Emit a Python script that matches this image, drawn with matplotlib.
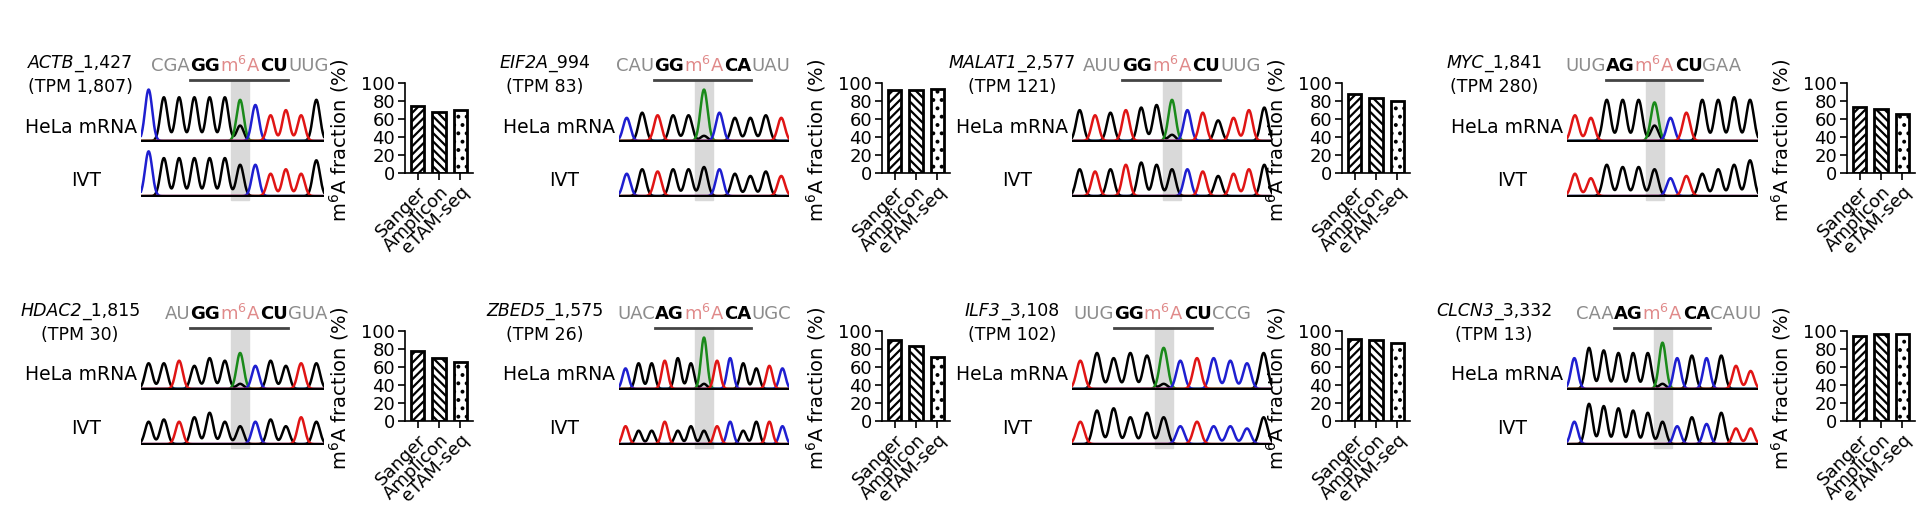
import numpy as np
import matplotlib
matplotlib.use("Agg")
import matplotlib.pyplot as plt
from matplotlib.patches import Rectangle

plt.rcParams['font.family'] = 'DejaVu Sans'
plt.rcParams['hatch.linewidth'] = 1.6

W, H = 1920, 518
methods = ["Sanger", "Amplicon", "eTAM-seq"]
hatches = ["////", "\\\\\\\\", ".."]

genes = ["ACTB", "EIF2A", "MALAT1", "MYC", "HDAC2", "ZBED5", "ILF3", "CLCN3"]
sites = ["_1,427", "_994", "_2,577", "_1,841", "_1,815", "_1,575", "_3,108", "_3,332"]
tpms = ["1,807", "83", "121", "280", "30", "26", "102", "13"]
seq_left = ["CGA", "CAU", "AUU", "UUG", "AU", "UAC", "UUG", "CAA"]
seq_core1 = ["GG", "GG", "GG", "AG", "GG", "AG", "GG", "AG"]
seq_core2 = ["CU", "CA", "CU", "CU", "CU", "CA", "CU", "CA"]
seq_right = ["UUG", "UAU", "UUG", "GAA", "GUA", "UGC", "CCG", "CAUU"]

sanger = [75, 92, 88, 73, 78, 90, 91, 95]
amplicon = [68, 92, 83, 71, 70, 83, 90, 97]
etam = [70, 93, 80, 66, 66, 71, 87, 97]

# chromatogram peak calls (k=black, g=green, b=blue, r=red) and heights
hela_calls = ["bkkkkkgbrrrk", "bkrkkgbkkkr", "krkrkkgbrkrrk", "rrkkkgbrkkkk",
              "kkrkkkgbkkrk", "bkkrkkgrbkkrb", "rkkkkgbrbbbk", "bkkkkkgbkbkrr"]
hela_h = [[1, .85, .85, .85, .85, .85, .8, .7, .5, .6, .5, .8],
          [.45, .55, .5, .5, .5, 1, .55, .45, .45, .5, .45],
          [.6, .5, .55, .6, .65, .7, .8, .6, .55, .4, .45, .6, .65],
          [.5, .45, .8, .8, .8, .75, .45, .55, .8, .8, .85, .8],
          [.5, .5, .55, .45, .6, .55, .7, .45, .55, .45, .5, .5],
          [.4, .5, .5, .55, .6, .5, 1, .55, .6, .5, .4, .45, .4],
          [.55, .7, .6, .7, .65, .8, .55, .6, .6, .55, .5, .7],
          [.6, .8, .75, .7, .7, .7, .9, .6, .65, .6, .65, .45, .35]]
hela_minor = [.3, .1, .12, .3, .1, .1, .1, .1]
ivt_calls = ["bkkkkkkbrrrk", "bkrkkkbkkkr", "krkrkkkbrkrrk", "rrkkkkbrkkkk",
             "kkrkkkkbkkrk", "rkkrkkkrbkkrb", "rkkkkkbrbbbk", "bkkkkkkbkbkrr"]
ivt_h = [[1, .85, .85, .85, .85, .85, .7, .7, .5, .6, .5, .8],
         [.5, .6, .55, .6, .6, .65, .6, .5, .45, .55, .45],
         [.6, .55, .6, .7, .75, .7, .6, .6, .55, .45, .5, .6, .7],
         [.5, .4, .7, .65, .65, .6, .4, .45, .5, .6, .7, .8],
         [.5, .55, .5, .6, .7, .5, .4, .5, .55, .4, .6, .5],
         [.4, .3, .3, .5, .3, .4, .3, .4, .5, .3, .5, .5, .4],
         [.5, .75, .8, .6, .7, .6, .4, .5, .4, .4, .35, .6],
         [.5, .9, .85, .8, .75, .7, .5, .4, .6, .45, .7, .35, .35]]
site_idx = [6, 5, 6, 5, 6, 6, 5, 6]

label_cx = [80, 545, 1012, 1494]
chrom_x0 = [141, 619, 1072, 1567]
chrom_w = [183, 170, 200, 191]
spine_x = [405, 882, 1342, 1847]
row_dy = [0, 248]

colmap = {'k': 'black', 'g': '#1a8a1a', 'b': '#1f1fd0', 'r': '#e01515'}

fig = plt.figure(figsize=(W / 100, H / 100), dpi=100)
renderer = fig.canvas.get_renderer()


def axpx(x, y, w, h):
    return fig.add_axes([x / W, 1 - (y + h) / H, w / W, h / H])


def draw_trace(ax, calls, hts, site, minor):
    n = len(calls)
    x = np.linspace(0, n, 600)
    for c in 'kgbr':
        y = np.zeros_like(x) + 0.02
        for i, (cc, hh) in enumerate(zip(calls, hts)):
            if cc == c:
                y += hh * np.exp(-((x - i - 0.5) / 0.33) ** 2)
        if c == 'k' and calls[site] != 'k':
            y += minor * np.exp(-((x - site - 0.5) / 0.33) ** 2)
        ax.plot(x, y, color=colmap[c], lw=1.8)
    ax.axhline(0, color='black', lw=3)
    ax.set_xlim(0, n)
    ax.set_ylim(0, 1.05)
    ax.axis('off')


def widths(specs, fs):
    tmp = [fig.text(0, 0, sp, fontsize=fs, **kw) for sp, kw in specs]
    ws = [t.get_window_extent(renderer).width for t in tmp]
    for t in tmp:
        t.remove()
    return ws


def chain(specs, x_start, y, fs):
    x = x_start
    spans = []
    for s, kw in specs:
        t = fig.text(x / W, y, s, ha='left', va='center', fontsize=fs, **kw)
        bb = t.get_window_extent(renderer)
        spans.append((x, x + bb.width))
        x += bb.width
    return spans


FS = 13.5
LFS = 12.5
SFS = 13
for p in range(8):
    col, row = p % 4, p // 4
    dy = row_dy[row]
    cx0, cw = chrom_x0[col], chrom_w[col]
    n = len(hela_calls[p])
    s = site_idx[p]
    site_x = cx0 + cw * (s + 0.5) / n
    fig.patches.append(Rectangle(((site_x - 9) / W, 1 - (dy + 200) / H), 18 / W, 120 / H,
                                 transform=fig.transFigure, color='#d9d9d9', zorder=-5))
    a1 = axpx(cx0, dy + 88, cw, 54)
    draw_trace(a1, hela_calls[p], hela_h[p], s, hela_minor[p])
    a2 = axpx(cx0, dy + 150, cw, 47)
    draw_trace(a2, ivt_calls[p], ivt_h[p], s, 0)

    specs = [(genes[p], dict(style='italic')), (sites[p], {})]
    tw = sum(widths(specs, LFS))
    chain(specs, label_cx[col] - tw / 2, 1 - (dy + 63) / H, LFS)
    fig.text(label_cx[col] / W, 1 - (dy + 87) / H, "(TPM " + tpms[p] + ")",
             ha='center', va='center', fontsize=LFS)
    fig.text((cx0 - 4) / W, 1 - (dy + 127) / H, "HeLa mRNA", ha='right', va='center', fontsize=FS)
    fig.text((cx0 - 55) / W, 1 - (dy + 180) / H, "IVT", ha='center', va='center', fontsize=FS)

    grey = dict(color='#8c8c8c')
    bold = dict(weight='bold', color='black')
    pink = dict(color='#e08a8a')
    specs = [(seq_left[p], grey), (seq_core1[p], bold), (r"m$^{6}$A", pink),
             (seq_core2[p], bold), (seq_right[p], grey)]
    ws = widths(specs, SFS)
    start = site_x - ws[2] / 2 - ws[1] - ws[0]
    spans = chain(specs, start, 1 - (dy + 66) / H, SFS)
    fig.add_artist(plt.Line2D([spans[1][0] / W, spans[3][1] / W], [1 - (dy + 80) / H] * 2,
                              color='#444444', lw=2))

    sx = spine_x[col]
    ab = axpx(sx, dy + 83, 68, 90)
    vals = [sanger[p], amplicon[p], etam[p]]
    xs = np.arange(3)
    for xi, v, h in zip(xs, vals, hatches):
        ab.bar(xi, v, width=0.62, facecolor='white', edgecolor='black', lw=2, hatch=h)
    ab.set_ylim(0, 100)
    ab.set_xlim(-0.6, 2.6)
    ab.set_yticks([0, 20, 40, 60, 80, 100])
    ab.tick_params(labelsize=13, width=1.2, length=5, pad=2)
    ab.set_xticks(xs)
    ab.set_xticklabels(methods, rotation=45, ha='right', rotation_mode='anchor', fontsize=13)
    for sp in ['top', 'right']:
        ab.spines[sp].set_visible(False)
    for sp in ['left', 'bottom']:
        ab.spines[sp].set_linewidth(1.2)
    ab.set_ylabel(r"m$^{6}$A fraction (%)", fontsize=14)
    ab.yaxis.set_label_coords(-0.8, 0.36)

fig.savefig("out.png", dpi=100)
